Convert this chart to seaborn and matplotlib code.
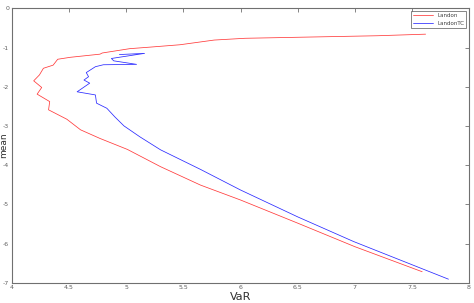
import numpy as np
import pandas as pd
import matplotlib
matplotlib.use("Agg")
import matplotlib.pyplot as plt
import seaborn as sns

landon_var = [7.62, 7.20, 6.04, 5.77, 5.47, 5.21, 5.03, 4.79, 4.77, 4.51, 4.40, 4.36, 4.275,
              4.24, 4.19, 4.26, 4.22, 4.33, 4.32, 4.48, 4.60, 4.77, 5.01, 5.30, 5.65, 6.00,
              6.50, 7.00, 7.59]
landon_mean = [-0.66, -0.70, -0.765, -0.81, -0.93, -0.99, -1.03, -1.14, -1.17, -1.25, -1.30,
               -1.45, -1.53, -1.70, -1.85, -2.02, -2.19, -2.38, -2.59, -2.83, -3.10, -3.32,
               -3.60, -4.04, -4.51, -4.89, -5.48, -6.08, -6.72]

landontc_var = [4.94, 5.16, 4.87, 4.89, 5.09, 4.80, 4.73, 4.65, 4.67, 4.63, 4.68, 4.57, 4.73,
                4.74, 4.83, 4.90, 4.98, 5.12, 5.30, 5.65, 6.00, 6.50, 6.99, 7.82]
landontc_mean = [-1.18, -1.15, -1.28, -1.34, -1.43, -1.44, -1.49, -1.64, -1.745, -1.83, -1.91,
                 -2.13, -2.21, -2.42, -2.55, -2.77, -3.00, -3.28, -3.61, -4.11, -4.635, -5.32,
                 -5.95, -6.91]

x_ticks = [4, 4.5, 5, 5.5, 6, 6.5, 7, 7.5, 8]
x_tick_labels = ["4", "4.5", "5", "5.5", "6", "6.5", "7", "7.5", "8"]
y_ticks = [0, -1, -2, -3, -4, -5, -6, -7]
y_tick_labels = ["0", "-1", "-2", "-3", "-4", "-5", "-6", "-7"]

df = pd.concat([
    pd.DataFrame({"VaR": landon_var, "mean": landon_mean, "series": "Landon"}),
    pd.DataFrame({"VaR": landontc_var, "mean": landontc_mean, "series": "LandonTC"}),
], ignore_index=True)

sns.set_theme(style="white")
plt.rcParams['font.family'] = ['DejaVu Sans']

fig = plt.figure(figsize=(4.74, 3.03), dpi=100)
ax = fig.add_axes([12/474, 1 - 282.7/303, (469-12)/474, (282.7-8.3)/303])

sns.lineplot(data=df, x="VaR", y="mean", hue="series", sort=False, estimator=None,
             units="series", palette={"Landon": "#ff3a3a", "LandonTC": "#2a2aff"},
             linewidth=0.55, ax=ax, legend=True)

ax.set_xlim(4, 8)
ax.set_ylim(-7, 0)
ax.set_xticks(x_ticks)
ax.set_xticklabels(x_tick_labels)
ax.set_yticks(y_ticks)
ax.set_yticklabels(y_tick_labels)
ax.tick_params(axis="both", direction="in", length=3, width=0.6, color="#707070",
               labelsize=4.5, labelcolor="#606060", top=True, right=True, pad=2)
for s in ax.spines.values():
    s.set_color("#707070")
    s.set_linewidth(0.8)
ax.grid(False)

ax.set_xlabel("VaR", fontsize=8, color="#303030", labelpad=1)
ax.set_ylabel("mean", fontsize=6.5, color="#303030")
ax.yaxis.set_label_coords(-0.009, 0.5)

leg = ax.legend(loc="upper right", fontsize=4, frameon=True, fancybox=False,
                edgecolor="#505050", handlelength=3.5, borderpad=0.4, labelspacing=0.4,
                borderaxespad=0.5)
leg.get_frame().set_linewidth(0.6)
for t in leg.get_texts():
    t.set_color("#404040")

fig.savefig("out.png", dpi=100)
